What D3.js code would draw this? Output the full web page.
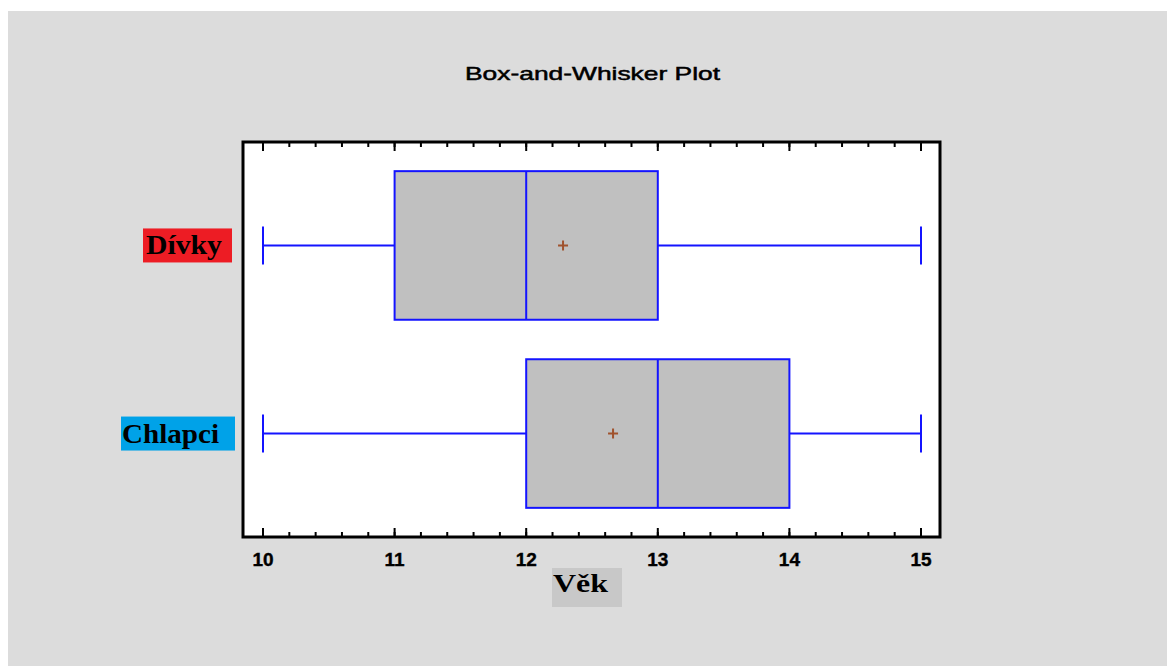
<!DOCTYPE html>
<html>
<head>
<meta charset="utf-8">
<script src="https://cdn.jsdelivr.net/npm/d3@7"></script>
<style>
  body { margin: 0; background: #fff; }
</style>
</head>
<body>
<svg id="chart" width="1167" height="666"></svg>
<script>
// box summary per group
const groups = ["Dívky", "Chlapci"];
const mins = [10, 10];
const q1s = [11, 12];
const medians = [12, 13];
const q3s = [13, 14];
const maxs = [15, 15];
const means = [12.28, 12.66];
const labelColors = ["#ed1c24", "#00a2e8"];
const majorTicks = [10, 11, 12, 13, 14, 15];
const minorTicks = d3.range(10, 15.01, 0.2);

const svg = d3.select("#chart");

// gray page
svg.append("rect")
  .attr("x", 8).attr("y", 11)
  .attr("width", 1159).attr("height", 655)
  .attr("fill", "#dcdcdc");

svg.append("text")
  .attr("x", 465).attr("y", 80)
  .attr("textLength", 255).attr("lengthAdjust", "spacingAndGlyphs")
  .style("font-family", "Arial, 'Liberation Sans', sans-serif")
  .style("font-size", "19px")
  .style("fill", "#000")
  .style("stroke", "#000").style("stroke-width", 0.5)
  .text("Box-and-Whisker Plot");

const plot = { left: 243, top: 142, right: 940, bottom: 537 };

const x = d3.scaleLinear().domain([10, 15]).range([263, 921]);
const y = d3.scalePoint().domain(groups).range([plot.top, plot.bottom]).padding(0.55);
const boxH = y.step() * 0.79;
const capH = 38;

svg.append("rect")
  .attr("x", plot.left).attr("y", plot.top)
  .attr("width", plot.right - plot.left).attr("height", plot.bottom - plot.top)
  .attr("fill", "#fff");

const rows = groups.map((g, i) => ({
  g, min: mins[i], q1: q1s[i], med: medians[i], q3: q3s[i], max: maxs[i], mean: means[i], color: labelColors[i]
}));

const box = svg.selectAll("g.box").data(rows).join("g").attr("class", "box");

// whiskers
box.append("line")
  .attr("x1", d => x(d.min)).attr("x2", d => x(d.q1))
  .attr("y1", d => y(d.g)).attr("y2", d => y(d.g));
box.append("line")
  .attr("x1", d => x(d.q3)).attr("x2", d => x(d.max))
  .attr("y1", d => y(d.g)).attr("y2", d => y(d.g));
box.append("line")
  .attr("x1", d => x(d.min)).attr("x2", d => x(d.min))
  .attr("y1", d => y(d.g) - capH / 2).attr("y2", d => y(d.g) + capH / 2);
box.append("line")
  .attr("x1", d => x(d.max)).attr("x2", d => x(d.max))
  .attr("y1", d => y(d.g) - capH / 2).attr("y2", d => y(d.g) + capH / 2);
box.selectAll("line").attr("stroke", "#1414ff").attr("stroke-width", 2);

box.append("rect")
  .attr("x", d => x(d.q1)).attr("y", d => y(d.g) - boxH / 2)
  .attr("width", d => x(d.q3) - x(d.q1)).attr("height", boxH)
  .attr("fill", "#c0c0c0").attr("stroke", "#1414ff").attr("stroke-width", 2);

box.append("line")
  .attr("x1", d => x(d.med)).attr("x2", d => x(d.med))
  .attr("y1", d => y(d.g) - boxH / 2).attr("y2", d => y(d.g) + boxH / 2)
  .attr("stroke", "#1414ff").attr("stroke-width", 2);

// mean marker
box.append("path")
  .attr("d", d => `M${x(d.mean) - 5},${y(d.g)}h10M${x(d.mean)},${y(d.g) - 5}v10`)
  .attr("stroke", "#a0522d").attr("stroke-width", 2);

// group labels
const lab = svg.selectAll("g.lab").data(rows).join("g").attr("class", "lab");
lab.append("rect")
  .attr("x", (d, i) => i === 0 ? 143 : 121)
  .attr("y", d => y(d.g) - 17)
  .attr("width", (d, i) => i === 0 ? 89 : 114)
  .attr("height", 34)
  .attr("fill", d => d.color);
lab.append("text")
  .attr("x", (d, i) => i === 0 ? 146 : 122)
  .attr("y", d => y(d.g) + 9)
  .attr("textLength", (d, i) => i === 0 ? 76 : 97)
  .attr("lengthAdjust", "spacingAndGlyphs")
  .style("font-family", "'Liberation Serif', 'Times New Roman', serif")
  .style("font-weight", "bold")
  .style("font-size", "27px")
  .style("fill", "#000")
  .text(d => d.g);

// ticks on bottom and top edges, pointing inward
const tickG = svg.append("g").attr("stroke", "#000").attr("stroke-width", 2);
tickG.selectAll("line.minb").data(minorTicks).join("line")
  .attr("x1", d => x(d)).attr("x2", d => x(d))
  .attr("y1", plot.bottom).attr("y2", plot.bottom - 5);
tickG.selectAll("line.mint").data(minorTicks).join("line")
  .attr("x1", d => x(d)).attr("x2", d => x(d))
  .attr("y1", plot.top).attr("y2", plot.top + 5);
tickG.selectAll("line.majb").data(majorTicks).join("line")
  .attr("x1", d => x(d)).attr("x2", d => x(d))
  .attr("y1", plot.bottom).attr("y2", plot.bottom - 9);
tickG.selectAll("line.majt").data(majorTicks).join("line")
  .attr("x1", d => x(d)).attr("x2", d => x(d))
  .attr("y1", plot.top).attr("y2", plot.top + 9);

svg.append("rect")
  .attr("x", plot.left).attr("y", plot.top)
  .attr("width", plot.right - plot.left).attr("height", plot.bottom - plot.top)
  .attr("fill", "none").attr("stroke", "#000").attr("stroke-width", 3);

svg.selectAll("text.tick").data(majorTicks).join("text")
  .attr("class", "tick")
  .attr("x", d => x(d)).attr("y", 566)
  .attr("text-anchor", "middle")
  .style("font-family", "Arial, 'Liberation Sans', sans-serif")
  .style("font-weight", "bold")
  .style("font-size", "19px")
  .style("fill", "#000")
  .style("stroke", "#000").style("stroke-width", 0.4)
  .text(d => d);

// axis title
svg.append("rect")
  .attr("x", 552).attr("y", 568).attr("width", 70).attr("height", 39)
  .attr("fill", "#c8c8c8");
svg.append("text")
  .attr("x", 553).attr("y", 592)
  .attr("textLength", 55).attr("lengthAdjust", "spacingAndGlyphs")
  .style("font-family", "'Liberation Serif', 'Times New Roman', serif")
  .style("font-weight", "bold")
  .style("font-size", "26px")
  .style("fill", "#000")
  .text("Věk");
</script>
</body>
</html>
